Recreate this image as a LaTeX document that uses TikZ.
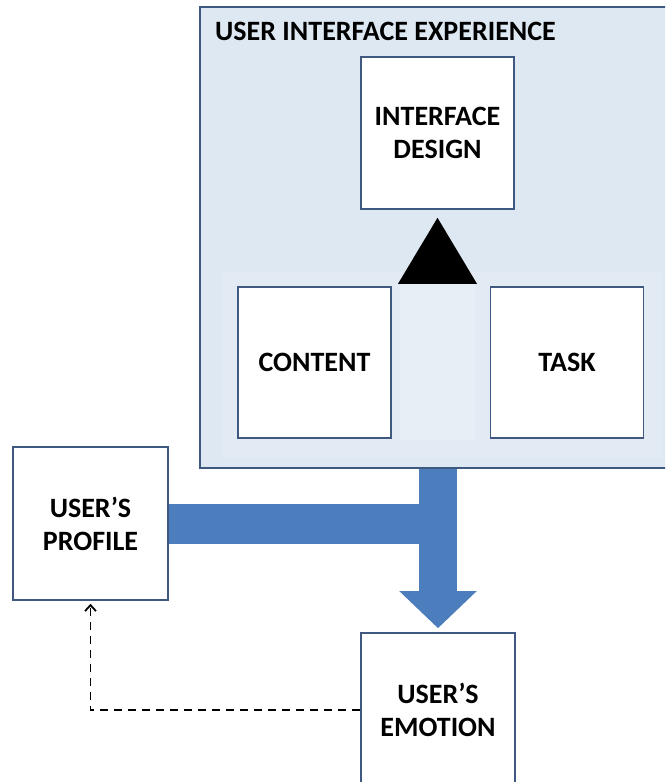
\documentclass[tikz,border=0pt]{standalone}
\usepackage{fontspec}
\setmainfont{Carlito}
\usetikzlibrary{arrows.meta,calc}

\definecolor{panelfill}{RGB}{222,232,243}
\definecolor{boxline}{RGB}{62,88,128}
\definecolor{flowblue}{RGB}{76,126,189}

\begin{document}
\begin{tikzpicture}[%
    x=1pt, y=-1pt,              % work in pixel-like units, top-down
    >={Straight Barb[length=6pt,width=11pt]},
    ]
% -------------------------------------------------
% Styles
\tikzset{
  base/.style={inner sep=0pt, align=center,
    font=\fontsize{28}{33}\selectfont\bfseries},
  box/.style={base, draw=boxline, fill=white, line width=1.6pt,
    minimum width=153pt, minimum height=152pt},
  panel/.style={draw=boxline, fill=panelfill, line width=1.6pt},
  flow/.style={line width=38pt, draw=flowblue,
    -{Triangle[length=37pt,width=75pt]}, shorten >=4pt},
  feed/.style={->, dash pattern=on 8pt off 6pt,
    line width=1.8pt, shorten >=3pt},
}
\useasboundingbox (0,0) rectangle (665,782);
\clip (0,0) rectangle (665,782);
% -------------------------------------------------
% The experience frame and its parts
\node [panel, minimum width=468pt, minimum height=461pt] (uix) at (434,237.5) {};
\fill [white, opacity=.15] (222,272) rectangle (662,458);
\fill [white, opacity=.2] (400,284) rectangle (475,440);
\node [base, anchor=west] (uixtitle) at (215,31) {USER INTERFACE EXPERIENCE};

\node [box] (design) at (437.5,133) {INTERFACE\\DESIGN};
\node [box, minimum height=151pt] (content) at (314.5,362.5) {CONTENT};
\node [box, minimum height=151pt] (task) at (567,362.5) {TASK};

% the black triangle under the design box
\fill (design.south) ++(0,8) -- ++(39.5,66) -- ++(-79,0) -- cycle;

% -------------------------------------------------
% Outside the frame
\node [box, minimum width=155pt, minimum height=153pt] (profile) at (90.5,523.5) {USER'S\\PROFILE};
\node [box, minimum width=154pt, minimum height=154pt] (emotion) at (438,710) {USER'S\\EMOTION};

% -------------------------------------------------
% Connectors
\coordinate (junction) at (emotion.north |- profile.east);
\draw [line width=40pt, draw=flowblue] (profile.east) -- ([xshift=1pt]junction);
\draw [flow] (emotion.north |- uix.south) -- (emotion.north);
\draw [feed] (emotion.west) -| (profile.south);
% -------------------------------------------------
\end{tikzpicture}
\end{document}
